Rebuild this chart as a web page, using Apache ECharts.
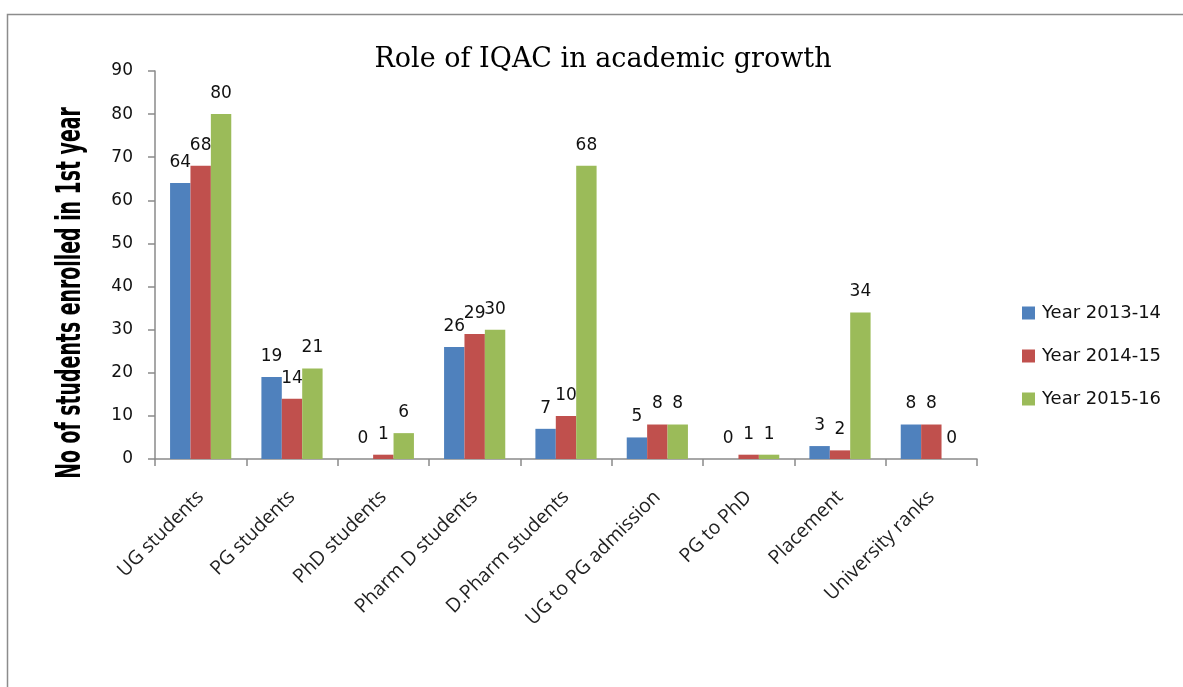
<!DOCTYPE html>
<html>
<head>
<meta charset="utf-8">
<script src="https://cdn.jsdelivr.net/npm/echarts@6/dist/echarts.min.js"></script>
<style>
  html, body { margin: 0; padding: 0; background: #fff; }
  #chart { width: 1183px; height: 687px; }
</style>
</head>
<body>
<div id="chart"></div>
<script>
// data
var categories = ['UG students', 'PG students', 'PhD students', 'Pharm D students', 'D.Pharm students',
  'UG to PG admission', 'PG to PhD', 'Placement', 'University ranks']
var year1314 = [64, 19, 0, 26, 7, 5, 0, 3, 8]
var year1415 = [68, 14, 1, 29, 10, 8, 1, 2, 8]
var year1516 = [80, 21, 6, 30, 68, 8, 1, 34, 0]
var seriesNames = ['Year 2013-14', 'Year 2014-15', 'Year 2015-16']
var colors = ['#4F81BD', '#C0504D', '#9BBB59']

var chart = echarts.init(document.getElementById('chart'))

function barSeries(name, data, color) {
  return {
    name: name,
    type: 'bar',
    data: data,
    barGap: '0%',
    barCategoryGap: '33%',
    itemStyle: { color: color },
    label: {
      show: true,
      position: 'top',
      distance: 12,
      color: '#111',
      fontFamily: 'DejaVu Sans',
      fontSize: 17
    }
  }
}

var option = {
  animation: false,
  backgroundColor: '#fff',
  color: colors,
  title: {
    text: 'Role of IQAC in academic growth',
    left: 598,
    top: 41,
    textAlign: 'center',
    textStyle: {
      fontFamily: 'DejaVu Serif',
      fontWeight: 'normal',
      fontSize: 27,
      color: '#000'
    }
  },
  legend: {
    orient: 'vertical',
    left: 1017,
    top: 299,
    itemWidth: 13,
    itemHeight: 13,
    itemGap: 25,
    icon: 'rect',
    textStyle: { fontFamily: 'DejaVu Sans', fontSize: 18, color: '#111', padding: [0, 0, 0, 2] },
    data: seriesNames
  },
  grid: {
    left: 155,
    right: 206,
    top: 71,
    bottom: 228,
    containLabel: false
  },
  xAxis: {
    type: 'category',
    data: categories,
    axisLine: { lineStyle: { color: '#8a8a8a', width: 1.5 } },
    axisTick: { show: true, length: 7, lineStyle: { color: '#8a8a8a', width: 1.5 } },
    axisLabel: {
      interval: 0,
      rotate: 45,
      margin: 35,
      fontFamily: 'Open Sans',
      fontSize: 19.5,
      color: '#222'
    }
  },
  yAxis: {
    type: 'value',
    min: 0,
    max: 90,
    interval: 10,
    splitLine: { show: false },
    axisLine: { show: true, lineStyle: { color: '#8a8a8a', width: 1.5 } },
    axisTick: { show: true, length: 7, lineStyle: { color: '#8a8a8a', width: 1.5 } },
    axisLabel: {
      margin: 22,
      fontFamily: 'DejaVu Sans',
      fontSize: 17,
      color: '#111'
    }
  },
  graphic: [
    {
      // outer frame
      type: 'rect',
      silent: true,
      shape: { x: 7.5, y: 14.5, width: 1300, height: 800 },
      style: { fill: 'none', stroke: '#8c8c8c', lineWidth: 1.5 }
    },
    {
      // y axis title, tall narrow bold lettering
      type: 'text',
      x: 71,
      y: 293,
      rotation: Math.PI / 2,
      scaleY: 1.6,
      style: {
        text: 'No of students enrolled in 1st year',
        fontFamily: '"Liberation Sans Narrow", "DejaVu Sans Condensed", sans-serif',
        fontWeight: 'bold',
        fontSize: 21,
        fill: '#000',
        align: 'center',
        verticalAlign: 'middle'
      }
    }
  ],
  series: [
    barSeries(seriesNames[0], year1314, colors[0]),
    barSeries(seriesNames[1], year1415, colors[1]),
    barSeries(seriesNames[2], year1516, colors[2])
  ]
}

chart.setOption(option)
</script>
</body>
</html>
